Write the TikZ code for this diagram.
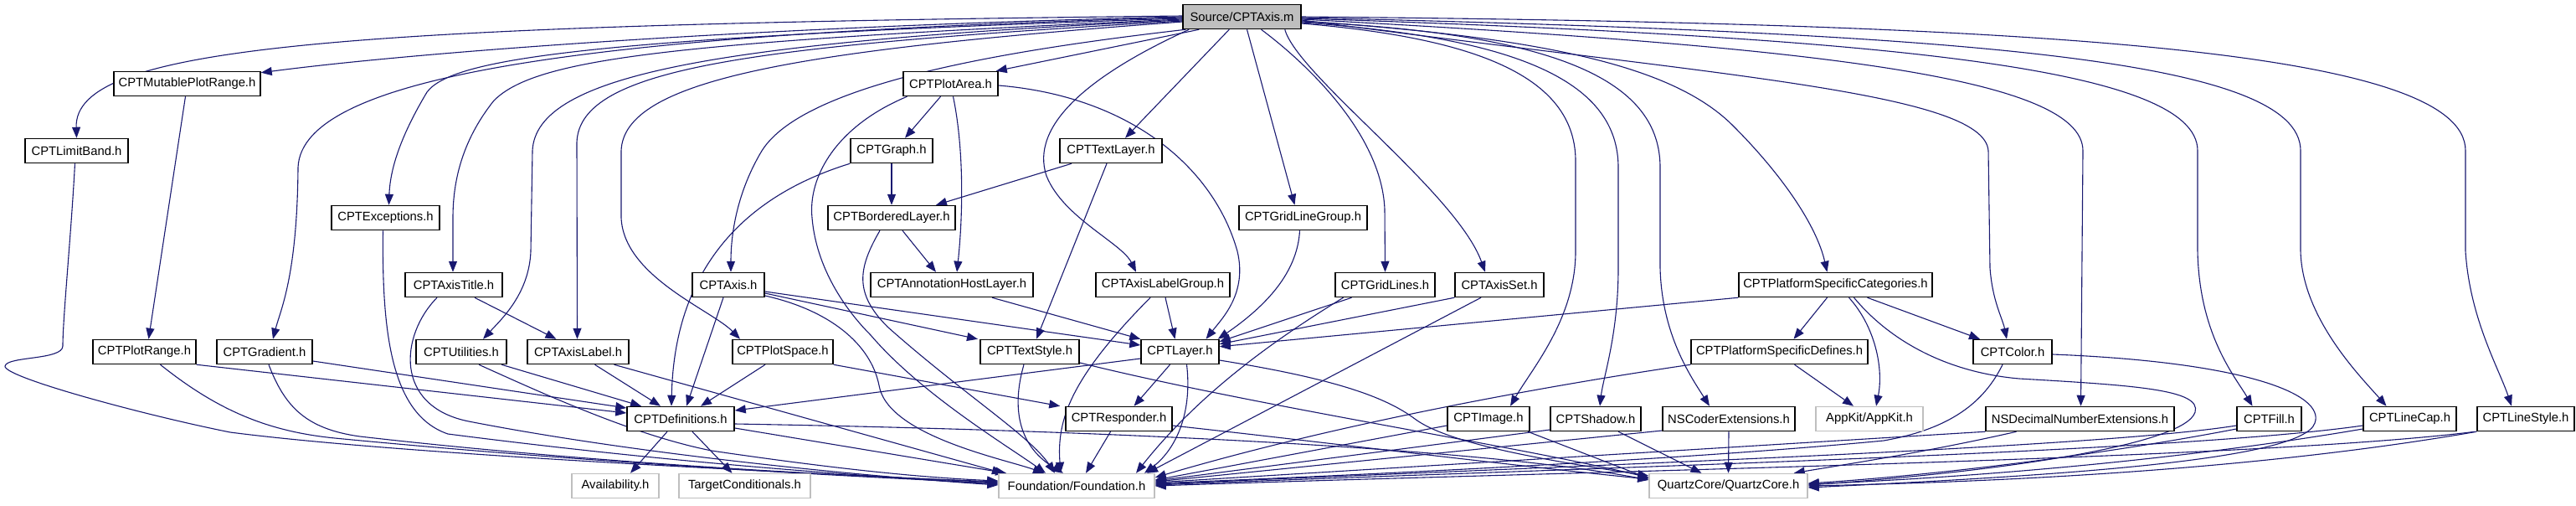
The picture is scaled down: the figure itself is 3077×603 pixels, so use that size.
\documentclass[tikz,border=0pt]{standalone}
\usepackage{fontspec}
\setmainfont{Liberation Sans}
\usetikzlibrary{arrows.meta,backgrounds}
\definecolor{edgec}{HTML}{191970}
\definecolor{gbord}{HTML}{BFBFBF}
\definecolor{rootfill}{HTML}{BFBFBF}
\begin{document}
\begin{tikzpicture}[x=1pt,y=-1pt,
 nd/.style={draw=black,line width=1.5pt,minimum height=29pt,inner sep=0pt,fill=white,font=\fontsize{14.8}{16}\selectfont},
 gnd/.style={nd,draw=gbord},
 e/.style={draw=edgec,line width=1.1pt,-{Triangle[length=13pt,width=10pt]}}]
\useasboundingbox (0,0) rectangle (3077,603);
% nodes
\node[nd,fill=rootfill,minimum width=141pt] (r) at (1483.5,20) {Source/CPTAxis.m};
\node[nd,minimum width=175pt] (mpr) at (223.5,100) {CPTMutablePlotRange.h};
\node[nd,minimum width=113pt] (plotarea) at (1135.5,100) {CPTPlotArea.h};
\node[nd,minimum width=123pt] (limitband) at (91.5,180) {CPTLimitBand.h};
\node[nd,minimum width=98pt] (graph) at (1065,180) {CPTGraph.h};
\node[nd,minimum width=122pt] (textlayer) at (1327,180) {CPTTextLayer.h};
\node[nd,minimum width=129pt] (exceptions) at (460.5,260) {CPTExceptions.h};
\node[nd,minimum width=152pt] (bordered) at (1065,260) {CPTBorderedLayer.h};
\node[nd,minimum width=153pt] (glg) at (1556.5,260) {CPTGridLineGroup.h};
\node[nd,minimum width=116pt] (axistitle) at (542,340) {CPTAxisTitle.h};
\node[nd,minimum width=86pt] (axis) at (870,340) {CPTAxis.h};
\node[nd,minimum width=194pt] (annot) at (1137,340) {CPTAnnotationHostLayer.h};
\node[nd,minimum width=160pt] (alg) at (1389,340) {CPTAxisLabelGroup.h};
\node[nd,minimum width=119pt] (gridlines) at (1654.5,340) {CPTGridLines.h};
\node[nd,minimum width=106pt] (axisset) at (1791,340) {CPTAxisSet.h};
\node[nd,minimum width=231pt] (psc) at (2192.5,340) {CPTPlatformSpecificCategories.h};
\node[nd,minimum width=123pt] (plotrange) at (172.5,420) {CPTPlotRange.h};
\node[nd,minimum width=114pt] (gradient) at (316,420) {CPTGradient.h};
\node[nd,minimum width=108pt] (utilities) at (551,420) {CPTUtilities.h};
\node[nd,minimum width=121pt] (axislabel) at (690.5,420) {CPTAxisLabel.h};
\node[nd,minimum width=120pt] (plotspace) at (935,420) {CPTPlotSpace.h};
\node[nd,minimum width=118pt] (textstyle) at (1230,420) {CPTTextStyle.h};
\node[nd,minimum width=93pt] (layer) at (1409.5,420) {CPTLayer.h};
\node[nd,minimum width=211pt] (psd) at (2125.5,420) {CPTPlatformSpecificDefines.h};
\node[nd,minimum width=94pt] (color) at (2404,420) {CPTColor.h};
\node[nd,minimum width=128pt] (definitions) at (813,500) {CPTDefinitions.h};
\node[nd,minimum width=127pt] (responder) at (1336.5,500) {CPTResponder.h};
\node[nd,minimum width=98pt] (image) at (1778,500) {CPTImage.h};
\node[nd,minimum width=108pt] (shadow) at (1906,500) {CPTShadow.h};
\node[nd,minimum width=158pt] (nscoder) at (2065,500) {NSCoderExtensions.h};
\node[gnd,minimum width=128pt] (appkit) at (2233,500) {AppKit/AppKit.h};
\node[nd,minimum width=225pt] (nsdecimal) at (2484.5,500) {NSDecimalNumberExtensions.h};
\node[nd,minimum width=77pt] (fill) at (2710.5,500) {CPTFill.h};
\node[nd,minimum width=111pt] (linecap) at (2878.5,500) {CPTLineCap.h};
\node[nd,minimum width=116pt] (linestyle) at (3017,500) {CPTLineStyle.h};
\node[gnd,minimum width=104pt] (availability) at (735,580) {Availability.h};
\node[gnd,minimum width=157pt] (targetcond) at (889.5,580) {TargetConditionals.h};
\node[gnd,minimum width=186pt] (foundation) at (1286,580) {Foundation/Foundation.h};
\node[gnd,minimum width=189pt] (quartz) at (2064.5,580) {QuartzCore/QuartzCore.h};
\begin{pgfonlayer}{background}
\fill[white] (0,0) rectangle (3077,603);
% root edges, left
\draw[e] ([yshift=1pt]r.west) .. controls (400,30) and (88,55) .. (limitband.north);
\draw[e] (r.west) .. controls (900,32) and (500,62) .. ([yshift=-2pt]mpr.north east);
\draw[e] ([yshift=-1pt]r.west) .. controls (700,40) and (360,90) .. (356,200) .. controls (355,330) and (335,370) .. ([xshift=10pt]gradient.north);
\draw[e] ([yshift=-2pt]r.west) .. controls (700,45) and (540,70) .. (510,110) .. controls (480,160) and (466,200) .. ([xshift=4pt]exceptions.north);
\draw[e] ([yshift=-3pt]r.west) .. controls (800,50) and (640,70) .. (590,120) .. controls (550,170) and (541,220) .. (541,260) -- ([xshift=-1pt]axistitle.north);
\draw[e] ([yshift=-4pt]r.west) .. controls (850,50) and (640,90) .. (636,180) -- (634,300) .. controls (632,350) and (600,380) .. ([xshift=26pt]utilities.north);
\draw[e] ([yshift=-5pt]r.west) .. controls (900,55) and (692,80) .. (689,170) -- ([xshift=-1pt]axislabel.north);
\draw[e] ([yshift=-6pt]r.west) .. controls (950,60) and (745,95) .. (742,180) -- (742,260) .. controls (745,330) and (850,370) .. ([xshift=-51pt]plotspace.north);
\draw[e] ([xshift=4pt]r.south west) .. controls (1200,60) and (960,100) .. (910,180) .. controls (880,230) and (873,280) .. ([xshift=3pt]axis.north);
\draw[e] ([xshift=20pt]r.south west) -- ([xshift=-3pt]plotarea.north east);
\draw[e] ([xshift=8pt]r.south west) .. controls (1300,90) and (1230,150) .. (1250,210) .. controls (1270,260) and (1340,290) .. ([xshift=-32pt]alg.north);
\draw[e] ([xshift=56pt]r.south west) -- ([xshift=17pt]textlayer.north);
\draw[e] ([xshift=6pt]r.south) -- ([xshift=-10pt]glg.north);
% root edges, right
\draw[e] ([xshift=23pt]r.south) .. controls (1540,60) and (1650,150) .. (1654,250) -- (gridlines.north);
\draw[e] ([xshift=-20pt]r.south east) .. controls (1550,90) and (1740,230) .. ([xshift=-17pt]axisset.north);
\draw[e] ([yshift=-8pt]r.east) .. controls (1760,45) and (1880,90) .. (1882,190) -- (1882,300) .. controls (1882,380) and (1830,440) .. ([xshift=26pt]image.north);
\draw[e] ([yshift=-7pt]r.east) .. controls (1820,45) and (1933,100) .. (1933,200) -- (1933,320) .. controls (1933,400) and (1915,450) .. ([xshift=5pt]shadow.north);
\draw[e] ([yshift=-6pt]r.east) .. controls (1870,40) and (1983,100) .. (1983,200) -- (1983,320) .. controls (1985,400) and (2020,450) .. ([xshift=-23pt]nscoder.north);
\draw[e] ([yshift=-5pt]r.east) .. controls (1850,45) and (2000,80) .. (2070,150) .. controls (2130,210) and (2170,270) .. ([xshift=-10pt]psc.north);
\draw[e] ([yshift=-4pt]r.east) .. controls (2050,90) and (2370,110) .. (2375,180) -- (2377,320) .. controls (2380,360) and (2392,380) .. ([xshift=-7pt]color.north);
\draw[e] ([yshift=-3pt]r.east) .. controls (2150,55) and (2488,90) .. (2488,180) -- ([xshift=1pt]nsdecimal.north);
\draw[e] ([yshift=-2pt]r.east) .. controls (2250,45) and (2625,80) .. (2625,180) -- (2625,300) .. controls (2627,400) and (2670,450) .. ([xshift=-20pt]fill.north);
\draw[e] ([yshift=-1pt]r.east) .. controls (2350,40) and (2748,70) .. (2748,180) -- (2748,300) .. controls (2750,380) and (2820,450) .. ([xshift=-28pt]linecap.north);
\draw[e] (r.east) .. controls (2450,28) and (2945,60) .. (2945,180) -- (2945,300) .. controls (2950,380) and (2985,440) .. ([xshift=-17pt]linestyle.north);
% left group
\draw[e] ([xshift=-2pt]mpr.south) -- ([xshift=5pt]plotrange.north);
\draw[e] ([xshift=-2pt]limitband.south) .. controls (85,280) and (75,380) .. (75,413) .. controls (75,430) and (8,425) .. (6,437) .. controls (4,450) and (170,495) .. (275,516) .. controls (500,545) and (1000,566) .. ([yshift=4pt]foundation.west);
\draw[e] ([xshift=-3pt]exceptions.south) .. controls (456,400) and (468,495) .. (535,518) .. controls (800,552) and (1000,566) .. ([yshift=2pt]foundation.west);
\draw[e] ([xshift=25pt]axistitle.south) -- ([xshift=-26pt]axislabel.north);
\draw[e] ([xshift=-20pt]axistitle.south) .. controls (478,400) and (470,485) .. (560,503) .. controls (750,540) and (1000,566) .. ([yshift=1pt]foundation.west);
\draw[e] (plotrange.south east) -- ([yshift=7pt]definitions.west);
\draw[e] ([xshift=19pt]plotrange.south) .. controls (260,490) and (320,515) .. (400,523) .. controls (700,552) and (1000,568) .. ([yshift=3pt]foundation.west);
\draw[e] ([yshift=-11pt]gradient.east) -- ([yshift=13pt]definitions.west);
\draw[e] ([xshift=5pt]gradient.south) .. controls (340,485) and (365,512) .. (430,521) .. controls (700,552) and (1000,568) .. ([yshift=5pt]foundation.west);
\draw[e] ([xshift=48pt]utilities.south) -- ([xshift=-47pt]definitions.north);
\draw[e] ([xshift=21pt]utilities.south) .. controls (660,475) and (760,520) .. (850,538) .. controls (1000,560) and (1100,570) .. ([yshift=6pt]foundation.west);
\draw[e] ([xshift=20pt]axislabel.south) -- ([xshift=-24pt]definitions.north);
\draw[e] ([xshift=43pt]axislabel.south) -- ([xshift=-88pt]foundation.north);
\draw[e] ([xshift=-16pt]definitions.south) -- ([xshift=18pt]availability.north);
\draw[e] ([xshift=14pt]definitions.south) -- ([xshift=-15pt]targetcond.north);
\draw[e] ([yshift=-11pt]definitions.east) -- ([xshift=-84pt]foundation.north);
\draw[e] ([yshift=-6pt]definitions.east) .. controls (1400,515) and (1800,540) .. ([yshift=7pt]quartz.west);
% middle group
\draw[e] ([xshift=-6pt]axis.south) -- ([xshift=7pt]definitions.north);
\draw[e] ([yshift=-10pt]axis.east) -- ([xshift=-62pt]textstyle.north);
\draw[e] ([yshift=-8pt]axis.east) -- ([yshift=8pt]layer.west);
\draw[e] ([yshift=-13pt]axis.east) .. controls (990,370) and (1040,410) .. (1050,460) .. controls (1060,520) and (1200,548) .. ([xshift=-39pt]foundation.north);
\draw[e] ([xshift=-21pt]plotspace.south) -- ([xshift=24pt]definitions.north);
\draw[e] (plotspace.south east) -- ([xshift=-6pt]responder.north west);
\draw[e] ([xshift=-47pt]textlayer.south) -- ([xshift=53pt]bordered.north);
\draw[e] ([xshift=-5pt]textlayer.south) -- ([xshift=8pt]textstyle.north);
\draw[e] (graph.south) -- (bordered.north);
\draw[e] (graph.south west) .. controls (870,240) and (805,340) .. ([xshift=-11pt]definitions.north);
\draw[e] ([xshift=-12pt]plotarea.south) -- ([xshift=16pt]graph.north);
\draw[e] ([xshift=3pt]plotarea.south) .. controls (1152,180) and (1150,260) .. ([xshift=6pt]annot.north);
\draw[e] ([yshift=-2pt]plotarea.east) .. controls (1350,115) and (1450,200) .. (1478,300) .. controls (1490,350) and (1460,380) .. ([xshift=31pt]layer.north);
\draw[e] ([xshift=-52pt]plotarea.south) .. controls (1000,150) and (965,210) .. (970,260) .. controls (975,320) and (1010,370) .. (1040,400) .. controls (1100,470) and (1200,530) .. ([xshift=-37pt]foundation.north);
\draw[e] ([xshift=13pt]bordered.south) -- ([xshift=-19pt]annot.north);
\draw[e] ([xshift=-14pt]bordered.south) .. controls (1025,320) and (1020,350) .. (1060,390) .. controls (1150,470) and (1230,520) .. ([xshift=-26pt]foundation.north);
\draw[e] ([xshift=48pt]annot.south) -- (layer.north west);
\draw[e] ([xshift=3pt]alg.south) -- ([xshift=-6pt]layer.north);
\draw[e] ([xshift=-15pt]alg.south) .. controls (1280,450) and (1262,500) .. ([xshift=-19pt]foundation.north);
\draw[e] ([xshift=-7pt]textstyle.south) .. controls (1210,480) and (1212,530) .. ([xshift=-16pt]foundation.north);
\draw[e] ([yshift=-13pt]textstyle.east) .. controls (1500,485) and (1800,530) .. ([yshift=10pt]quartz.west);
\draw[e] ([yshift=-8pt]layer.west) -- ([yshift=10pt]definitions.east);
\draw[e] ([xshift=-12pt]layer.south) -- ([xshift=18pt]responder.north);
\draw[e] ([xshift=8pt]layer.south) .. controls (1425,500) and (1400,540) .. ([xshift=81pt]foundation.north);
\draw[e] ([yshift=-10pt]layer.east) .. controls (1580,450) and (1650,470) .. (1690,500) .. controls (1730,530) and (1850,550) .. ([yshift=12pt]quartz.west);
\draw[e] ([xshift=-10pt]responder.south) -- ([xshift=11pt]foundation.north);
\draw[e] ([yshift=-8pt]responder.east) .. controls (1600,530) and (1800,555) .. ([yshift=8pt]quartz.west);
% right group
\draw[e] ([xshift=-4pt]glg.south) .. controls (1550,320) and (1520,360) .. ([xshift=-2pt]layer.north east);
\draw[e] ([xshift=-40pt]gridlines.south) -- ([yshift=-3pt]layer.north east);
\draw[e] ([xshift=-50pt]gridlines.south) .. controls (1540,395) and (1440,460) .. ([xshift=71pt]foundation.north);
\draw[e] (axisset.south west) -- ([yshift=-6pt]layer.north east);
\draw[e] ([xshift=-22pt]axisset.south) -- ([xshift=84pt]foundation.north);
\draw[e] (psc.south west) -- ([yshift=-9pt]layer.north east);
\draw[e] ([xshift=-10pt]psc.south) -- ([xshift=17pt]psd.north);
\draw[e] ([xshift=16pt]psc.south) .. controls (2240,390) and (2250,440) .. ([xshift=8pt]appkit.north);
\draw[e] ([xshift=38pt]psc.south) -- ([xshift=-39pt]color.north);
\draw[e] ([xshift=22pt]psc.south) .. controls (2260,410) and (2330,445) .. (2412,452) .. controls (2550,460) and (2630,465) .. (2622,492) .. controls (2610,530) and (2400,562) .. ([yshift=1pt]quartz.east);
\draw[e] (psd.south west) .. controls (1850,460) and (1600,505) .. ([yshift=10pt]foundation.east);
\draw[e] ([xshift=18pt]psd.south) -- ([xshift=-19pt]appkit.north);
\draw[e] ([xshift=-12pt]color.south) .. controls (2370,480) and (2330,512) .. (2250,526) .. controls (2000,550) and (1600,568) .. ([yshift=3pt]foundation.east);
\draw[e] ([yshift=-3pt]color.east) .. controls (2680,432) and (2778,470) .. (2765,505) .. controls (2750,550) and (2450,568) .. ([yshift=-2pt]quartz.east);
\draw[e] ([yshift=-8pt]image.west) -- ([yshift=7pt]foundation.east);
\draw[e] ([xshift=47pt]image.south) -- ([yshift=9pt]quartz.west);
\draw[e] ([yshift=-13pt]shadow.west) -- ([yshift=6pt]foundation.east);
\draw[e] ([xshift=27pt]shadow.south) -- ([xshift=-32pt]quartz.north);
\draw[e] ([yshift=-14pt]nscoder.west) -- ([yshift=5pt]foundation.east);
\draw[e] (nscoder.south) -- (quartz.north);
\draw[e] (nsdecimal.south west) -- ([yshift=4pt]foundation.east);
\draw[e] ([xshift=-76pt]nsdecimal.south) .. controls (2300,540) and (2200,555) .. ([xshift=-17pt]quartz.north east);
\draw[e] ([yshift=-8pt]fill.west) .. controls (2500,535) and (1900,555) .. ([yshift=2pt]foundation.east);
\draw[e] ([yshift=-12pt]fill.west) .. controls (2500,545) and (2300,568) .. ([yshift=3pt]quartz.east);
\draw[e] ([yshift=-8pt]linecap.west) .. controls (2600,540) and (1900,558) .. ([yshift=1pt]foundation.east);
\draw[e] ([yshift=-12pt]linecap.west) .. controls (2600,550) and (2350,570) .. ([yshift=2pt]quartz.east);
\draw[e] ([xshift=-2pt]linestyle.south west) .. controls (2700,548) and (1900,562) .. (foundation.east);
\draw[e] (linestyle.south west) .. controls (2700,560) and (2400,575) .. (quartz.east);
\end{pgfonlayer}
\end{tikzpicture}
\end{document}
